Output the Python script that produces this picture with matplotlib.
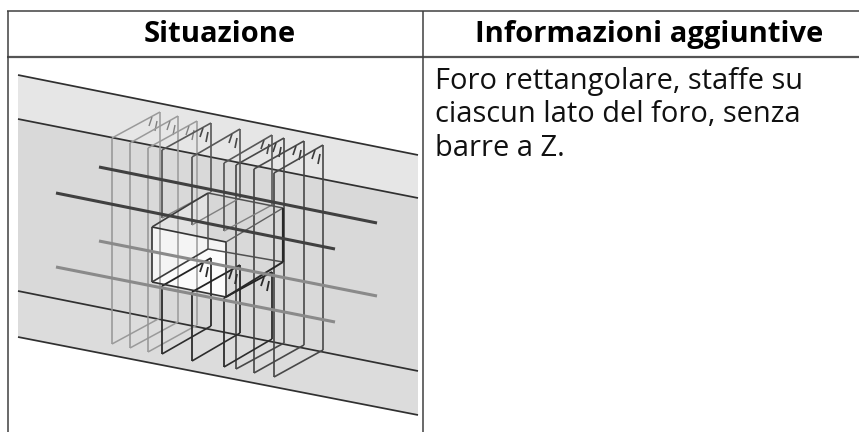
import matplotlib
matplotlib.use("Agg")
import matplotlib.pyplot as plt
from matplotlib.patches import Polygon

plt.rcParams['font.family'] = ['Open Sans', 'DejaVu Sans']

# table text
headers = ['Situazione', 'Informazioni aggiuntive']
info_lines = ['Foro rettangolare, staffe su',
              'ciascun lato del foro, senza',
              'barre a Z.']

# beam edges, left and right ends, read in pixels of the picture
beam_edges = [((18, 75), (418, 155)),
              ((18, 119), (418, 198)),
              ((18, 291), (418, 371)),
              ((18, 337), (418, 415))]

# stirrups: front x, back x, top y front, top y back, bottom y front, bottom y back
light_stirrups = [(112, 160, 138, 112, 344, 318),
                  (130, 178, 143, 116, 348, 322),
                  (148, 197, 148, 121, 352, 325)]
full_stirrups = [(236, 284, 165, 138, 369, 343),
                 (254, 304, 169, 141, 373, 345),
                 (274, 323, 173, 145, 377, 350)]
# stirrups cut by the hole: upper part and lower part
cut_stirrups = [(162, 211, 150, 123, 218, 192, 286, 258, 354, 326),
                (192, 240, 157, 129, 225, 198, 292, 265, 361, 333),
                (224, 272, 163, 135, 231, 205, 298, 272, 367, 339)]

# hole corners
hole_front = [(152, 227), (226, 242), (226, 297), (152, 282)]
hole_back = [(208, 193), (283, 208), (283, 262), (208, 249)]

# longitudinal bars
dark_bars = [((99, 167), (377, 223)), ((56, 193), (335, 249))]
grey_bars = [((99, 241), (377, 296)), ((56, 267), (335, 322))]

fig = plt.figure(figsize=(8.59, 4.32), dpi=100)
ax = fig.add_axes([0, 0, 1, 1])
ax.set_xlim(0, 859)
ax.set_ylim(432, 0)
ax.axis('off')


def seg(p, q, color, lw, z=3):
    ax.plot([p[0], q[0]], [p[1], q[1]], color=color, lw=lw, zorder=z,
            solid_capstyle='butt')


def hooks(x, y, color, lw):
    seg((x - 8, y + 5), (x - 11, y + 14), color, lw)
    seg((x - 3, y + 9), (x - 5, y + 19), color, lw)


#--- beam faces ---------------------------------------------------------
ax.add_patch(Polygon([beam_edges[0][0], beam_edges[0][1], beam_edges[1][1], beam_edges[1][0]],
                     fc='#e6e6e6', ec='none', zorder=1))
ax.add_patch(Polygon([beam_edges[1][0], beam_edges[1][1], beam_edges[2][1], beam_edges[2][0]],
                     fc='#d9d9d9', ec='none', zorder=1))
ax.add_patch(Polygon([beam_edges[2][0], beam_edges[2][1], beam_edges[3][1], beam_edges[3][0]],
                     fc='#dcdcdc', ec='none', zorder=1))

#--- hole ---------------------------------------------------------------
ax.add_patch(Polygon(hole_front, fc='#f4f4f4', ec='none', zorder=2))
ax.add_patch(Polygon([hole_front[3], hole_back[3], (hole_front[1][0], 252), hole_front[2]],
                     fc='#fbfbfb', ec='none', zorder=2))
ax.add_patch(Polygon([hole_front[0], hole_back[0], (hole_back[0][0], 240)],
                     fc='#e2e2e2', ec='none', zorder=2))
ax.add_patch(Polygon([hole_front[1], (hole_back[0][0], 240), hole_back[0], hole_back[1]],
                     fc='#d7d7d7', ec='none', zorder=2))

for a, b in beam_edges:
    seg(a, b, '#303030', 1.25)

#--- stirrups -----------------------------------------------------------
for fx, bx, t1, t2, b1, b2 in light_stirrups:
    seg((fx, t1), (bx, t2), '#9a9a9a', 1.1)
    seg((fx, t1), (fx, b1), '#959595', 1.1)
    seg((bx, t2), (bx, b2), '#9a9a9a', 1.1)
    seg((fx, b1), (bx, b2), '#9a9a9a', 1.1)
    hooks(bx, t2, '#808080', 1.0)

for fx, bx, t1, t2, b1, b2 in full_stirrups:
    seg((fx, t1), (bx, t2), '#484848', 1.2)
    seg((fx, t1), (fx, b1), '#444444', 1.2)
    seg((bx, t2), (bx, b2), '#484848', 1.2)
    seg((fx, b1), (bx, b2), '#484848', 1.2)
    hooks(bx, t2, '#3a3a3a', 1.2)

for fx, bx, t1, t2, m1, m2, l1, l2, b1, b2 in cut_stirrups:
    seg((fx, t1), (bx, t2), '#585858', 1.2)
    seg((fx, t1), (fx, m1), '#505050', 1.2)
    seg((bx, t2), (bx, m2), '#585858', 1.2)
    seg((fx, m1), (bx, m2), '#808080', 1.0)
    seg((fx, l1), (bx, l2), '#222222', 1.3)
    seg((fx, l1), (fx, b1), '#2c2c2c', 1.3)
    seg((bx, l2), (bx, b2), '#2c2c2c', 1.3)
    seg((fx, b1), (bx, b2), '#2c2c2c', 1.2)
    hooks(bx, t2, '#484848', 1.2)
    hooks(bx, l2, '#2c2c2c', 1.3)

#--- hole edges ---------------------------------------------------------
for i in range(4):
    seg(hole_front[i], hole_front[(i + 1) % 4], '#333333', 1.2)
    seg(hole_back[i], hole_back[(i + 1) % 4], '#505050', 1.1)
seg(hole_front[0], hole_back[0], '#3c3c3c', 1.2)
seg(hole_front[1], hole_back[1], '#606060', 1.0)
seg(hole_front[2], hole_back[2], '#282828', 1.4)
seg(hole_front[3], hole_back[3], '#3c3c3c', 1.2)
seg(hole_back[1], hole_back[2], '#282828', 1.6)

#--- bars ---------------------------------------------------------------
for a, b in dark_bars:
    seg(a, b, '#404040', 2.2, 4)
for a, b in grey_bars:
    seg(a, b, '#8a8a8a', 2.2, 4)

#--- table --------------------------------------------------------------
rule = '#404040'
seg((7, 11), (859, 11), rule, 1.1, 5)
seg((7, 56.7), (859, 56.7), '#555555', 1.6, 5)
seg((7.5, 11), (7.5, 432), rule, 1.1, 5)
seg((423, 11), (423, 432), rule, 1.1, 5)

ax.text(220, 42, headers[0], ha='center', va='baseline', fontsize=21,
        fontweight='bold', color='black')
ax.text(649, 42, headers[1], ha='center', va='baseline', fontsize=21,
        fontweight='bold', color='black')
for i, line in enumerate(info_lines):
    ax.text(435, 88.5 + 34 * i, line, ha='left', va='baseline', fontsize=20.9, color='#111111')

plt.savefig('out.png', dpi=100)
